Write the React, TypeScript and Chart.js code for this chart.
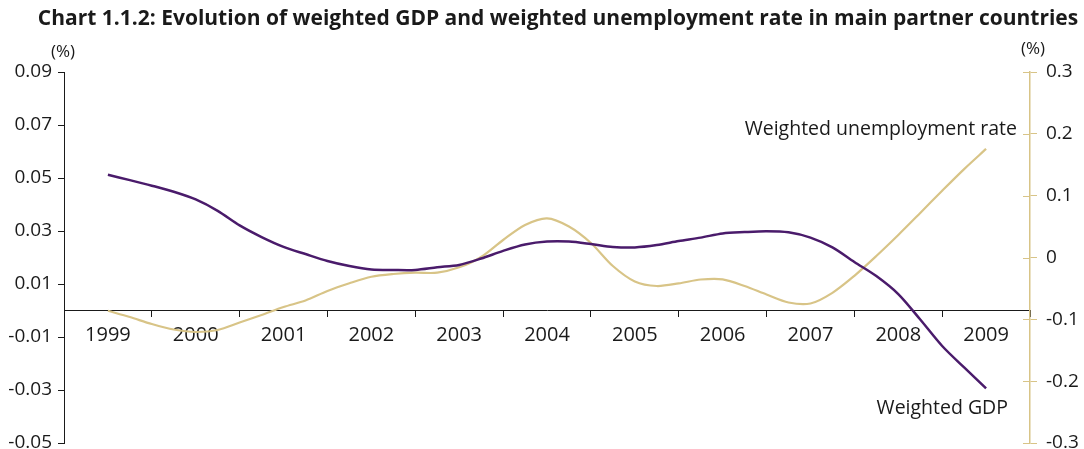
import React, { useEffect, useRef } from "react";
import { Chart, registerables } from "chart.js";

Chart.register(...registerables);

const years = ["1999", "2000", "2001", "2002", "2003", "2004", "2005", "2006", "2007", "2008", "2009"];

// Quarterly values, 1999 to 2009 (left axis, %)
const gdp = [
  0.0512, 0.0492, 0.0471, 0.0448, 0.0419, 0.0376, 0.0321, 0.0277, 0.024, 0.0213,
  0.0187, 0.0168, 0.0155, 0.0153, 0.0153, 0.0163, 0.0172, 0.0196, 0.0225, 0.0249,
  0.026, 0.026, 0.0251, 0.024, 0.0238, 0.0247, 0.0262, 0.0275, 0.0291, 0.0296,
  0.0299, 0.0295, 0.0275, 0.0238, 0.0183, 0.013, 0.0062, -0.0034, -0.0134, -0.0215,
  -0.0294,
];

// Quarterly values, 1999 to 2009 (right axis, %)
const unemployment = [
  -0.0861, -0.0963, -0.1076, -0.1165, -0.1205, -0.1173, -0.1052, -0.093, -0.0801, -0.0696,
  -0.0542, -0.0417, -0.0311, -0.0267, -0.0246, -0.0246, -0.0159, 0.0008, 0.0283, 0.0526,
  0.0634, 0.0502, 0.0235, -0.0138, -0.0388, -0.0461, -0.0419, -0.0356, -0.0353, -0.0461,
  -0.0599, -0.0728, -0.0744, -0.0571, -0.0296, 0.0024, 0.0364, 0.072, 0.108, 0.143,
  0.1756,
];

const leftTicks = [-0.05, -0.03, -0.01, 0.01, 0.03, 0.05, 0.07, 0.09];
const rightTicks = [-0.3, -0.2, -0.1, 0, 0.1, 0.2, 0.3];

const TITLE = "Chart 1.1.2: Evolution of weighted GDP and weighted unemployment rate in main partner countries";
const PURPLE = "#4a1b6b";
const GOLD = "#d8c487";
const TEXT = "#1a1a1a";
const FONT = "'Open Sans', sans-serif";

const overlay = {
  id: "overlay",
  afterDraw(chart: any) {
    const ctx = chart.ctx;
    const yr = chart.scales.yRight;
    ctx.save();
    // inward ticks on right axis
    ctx.strokeStyle = GOLD;
    ctx.lineWidth = 1;
    rightTicks.forEach((v) => {
      const y = Math.round(yr.getPixelForValue(v)) + 0.5;
      ctx.beginPath();
      ctx.moveTo(chart.chartArea.right - 7, y);
      ctx.lineTo(chart.chartArea.right, y);
      ctx.stroke();
    });
    ctx.fillStyle = TEXT;
    ctx.textBaseline = "middle";
    ctx.textAlign = "center";
    ctx.font = `bold 21px ${FONT}`;
    ctx.fillText(TITLE, 558, 19);
    ctx.font = `17px ${FONT}`;
    ctx.fillText("(%)", 63, 52);
    ctx.fillText("(%)", 1033, 49);
    ctx.font = `19.5px ${FONT}`;
    ctx.textAlign = "right";
    ctx.fillText("Weighted unemployment rate", 1017, 129);
    ctx.fillText("Weighted GDP", 1008, 408);
    ctx.restore();
  },
};

const noVPad = (s: any) => {
  s.paddingTop = 0;
  s.paddingBottom = 0;
};

export default function App() {
  const ref = useRef<HTMLCanvasElement | null>(null);
  useEffect(() => {
    document.body.style.margin = "0";
    const canvas = ref.current!;
    const chart = new Chart(canvas, {
      type: "line",
      data: {
        labels: years,
        datasets: [
          {
            label: "Weighted GDP",
            data: gdp.map((v, i) => ({ x: i / 4, y: v })),
            xAxisID: "xd",
            yAxisID: "yLeft",
            borderColor: PURPLE,
            borderWidth: 2.5,
            pointRadius: 0,
            tension: 0.3,
            fill: false,
          },
          {
            label: "Weighted unemployment rate",
            data: unemployment.map((v, i) => ({ x: i / 4, y: v })),
            xAxisID: "xd",
            yAxisID: "yRight",
            borderColor: GOLD,
            borderWidth: 2.2,
            pointRadius: 0,
            tension: 0.3,
            fill: false,
          },
        ],
      },
      options: {
        responsive: false,
        animation: false,
        layout: { padding: { top: 72, bottom: 6, left: 0, right: 0 } },
        plugins: { legend: { display: false }, tooltip: { enabled: false }, title: { display: false } },
        scales: {
          xd: {
            type: "linear",
            display: false,
            min: -0.5,
            max: 10.5,
          },
          x: {
            type: "category",
            position: { yLeft: 0 } as any,
            offset: true,
            afterFit: (s: any) => {
              s.height = 0;
              s.paddingTop = 0;
              s.paddingBottom = 0;
            },
            grid: {
              offset: true,
              drawOnChartArea: false,
              drawTicks: true,
              tickLength: 6,
              tickColor: (c: any) => (c.index === 11 ? "rgba(0,0,0,0)" : TEXT),
              color: TEXT,
            },
            border: { display: true, color: TEXT, width: 1 },
            ticks: {
              autoSkip: false,
              maxRotation: 0,
              padding: 7,
              color: TEXT,
              font: { family: FONT, size: 20 },
            },
          },
          yLeft: {
            type: "linear",
            position: "left",
            min: -0.05,
            max: 0.09,
            afterFit: (s: any) => {
              s.width = 64;
              noVPad(s);
            },
            afterBuildTicks: (s: any) => {
              s.ticks = leftTicks.map((v) => ({ value: v }));
            },
            grid: { drawOnChartArea: false, drawTicks: true, tickLength: 6, color: TEXT },
            border: { display: true, color: TEXT, width: 1 },
            ticks: {
              padding: 6,
              color: TEXT,
              font: { family: FONT, size: 19 },
              callback: (v: any) => Number(v).toFixed(2),
            },
          },
          yRight: {
            type: "linear",
            position: "right",
            min: -0.3,
            max: 0.3,
            afterFit: (s: any) => {
              s.width = 54;
              noVPad(s);
            },
            afterBuildTicks: (s: any) => {
              s.ticks = rightTicks.map((v) => ({ value: v }));
            },
            grid: { drawOnChartArea: false, drawTicks: true, tickLength: 7, color: GOLD },
            border: { display: true, color: GOLD, width: 1.5 },
            ticks: {
              padding: 9,
              color: TEXT,
              font: { family: FONT, size: 19 },
              callback: (v: any) => (Math.abs(Number(v)) < 1e-9 ? "0" : Number(v).toFixed(1)),
            },
          },
        },
      },
      plugins: [overlay],
    });
    return () => chart.destroy();
  }, []);
  return (
    <div style={{ width: 1084, height: 449 }}>
      <canvas ref={ref} width={1084} height={449} />
    </div>
  );
}
